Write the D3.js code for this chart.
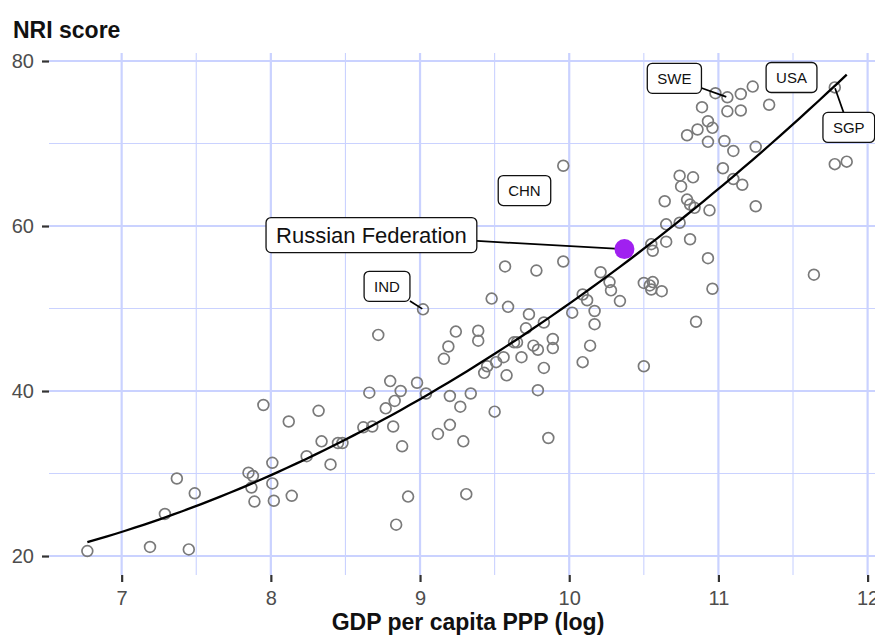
<!DOCTYPE html>
<html>
<head>
<meta charset="utf-8">
<script src="https://cdn.jsdelivr.net/npm/d3@7"></script>
<style>
  body { margin: 0; background: #fff; }
  svg { display: block; font-family: "Liberation Sans", Arial, sans-serif; }
</style>
</head>
<body>
<div id="chart"></div>
<script>
// GDP per capita PPP (log) and NRI score, unlabelled countries
const gdpLog = [6.77, 7.19, 7.45, 7.29, 7.37, 7.49, 7.95, 7.85, 7.88, 7.87, 7.89, 8.01, 8.01, 8.02,
  8.12, 8.14, 8.24, 8.32, 8.34, 8.40, 8.45, 8.48, 8.66, 8.62, 8.68, 8.80, 8.77, 8.83, 8.82, 8.84,
  8.87, 8.88, 8.72, 8.98, 9.04, 9.20, 9.34, 9.27, 9.50, 9.79, 9.12, 9.20, 9.29, 9.86, 8.92, 9.31,
  9.24, 9.19, 9.16, 9.39, 9.39, 9.48, 9.59, 9.73, 9.83, 9.71, 9.63, 9.65, 9.76, 9.79, 9.89, 9.89,
  9.56, 9.51, 9.68, 9.43, 9.45, 9.58, 9.83, 10.09, 10.14, 10.17, 10.17, 10.12, 10.09, 10.02, 9.57,
  9.78, 9.96, 10.21, 10.27, 10.28, 10.34, 9.96, 10.50, 10.54, 10.56, 10.55, 10.62, 10.56, 10.55,
  10.65, 10.81, 10.93, 10.96, 10.85, 10.50, 11.64, 10.98, 11.15, 11.23, 11.34, 10.89, 11.06, 11.15,
  10.93, 10.96, 10.86, 10.79, 10.93, 11.04, 11.10, 11.25, 11.03, 11.10, 11.16, 10.74, 10.83, 10.75,
  10.64, 10.79, 10.81, 10.84, 10.94, 11.25, 10.65, 10.74, 11.78, 11.86];
const nriScore = [20.6, 21.1, 20.8, 25.1, 29.4, 27.6, 38.3, 30.1, 29.7, 28.3, 26.6, 31.3, 28.8, 26.7,
  36.3, 27.3, 32.1, 37.6, 33.9, 31.1, 33.7, 33.7, 39.8, 35.6, 35.7, 41.2, 37.9, 38.8, 35.7, 23.8,
  40.0, 33.3, 46.8, 41.0, 39.7, 39.4, 39.7, 38.1, 37.5, 40.1, 34.8, 35.9, 33.9, 34.3, 27.2, 27.5,
  47.2, 45.4, 43.9, 47.3, 46.1, 51.2, 50.2, 49.3, 48.3, 47.6, 45.9, 45.9, 45.5, 45.0, 46.3, 45.2,
  44.1, 43.5, 44.1, 42.2, 43.0, 41.9, 42.8, 43.5, 45.5, 48.1, 49.7, 51.0, 51.7, 49.5, 55.1,
  54.6, 55.7, 54.4, 53.2, 52.2, 50.9, 67.3, 53.1, 52.8, 53.2, 52.3, 52.1, 57.0, 57.8,
  58.1, 58.4, 56.1, 52.4, 48.4, 43.0, 54.1, 76.1, 76.0, 76.9, 74.7, 74.4, 73.9, 74.0,
  72.7, 71.9, 71.7, 71.0, 70.2, 70.3, 69.1, 69.6, 67.0, 65.7, 65.0, 66.1, 65.9, 64.8,
  63.0, 63.2, 62.6, 62.2, 61.9, 62.4, 60.2, 60.4, 67.5, 67.8];

// labelled countries
const labelCodes = ["IND", "CHN", "SWE", "USA", "SGP"];
const labelGdp = [9.02, 9.70, 11.06, 11.49, 11.78];
const labelNri = [49.9, 64.3, 75.6, 78.0, 76.8];

// highlighted country
const focusName = "Russian Federation";
const focusGdp = 10.37;
const focusNri = 57.2;

const xTicks = [7, 8, 9, 10, 11, 12];
const yTicks = [20, 40, 60, 80];
const xMinor = [7.5, 8.5, 9.5, 10.5, 11.5];
const yMinor = [30, 50, 70];

// layout
const width = 875, height = 637;
const panel = { left: 49, right: 887, top: 53, bottom: 575 };
const labelOffsets = { IND: [-36, -23], CHN: [0, 0], SWE: [-53, -19], USA: [0, 0], SGP: [14, 40] };
const focusOffset = [-253, -14];
const gridColor = "#cad2ff";

const svg = d3.select("#chart").append("svg")
  .attr("width", width)
  .attr("height", height);

const x = d3.scaleLinear().domain([6.513, 12.13]).range([panel.left, panel.right]);
const y = d3.scaleLinear().domain([17.7, 80.97]).range([panel.bottom, panel.top]);

// grid
const grid = svg.append("g");
grid.selectAll(".vminor").data(xMinor).enter().append("line")
  .attr("x1", d => x(d)).attr("x2", d => x(d))
  .attr("y1", panel.top).attr("y2", panel.bottom)
  .attr("stroke", gridColor).attr("stroke-width", 1.1);
grid.selectAll(".hminor").data(yMinor).enter().append("line")
  .attr("x1", panel.left).attr("x2", panel.right)
  .attr("y1", d => y(d)).attr("y2", d => y(d))
  .attr("stroke", gridColor).attr("stroke-width", 1.1);
grid.selectAll(".vmajor").data(xTicks).enter().append("line")
  .attr("x1", d => x(d)).attr("x2", d => x(d))
  .attr("y1", panel.top).attr("y2", panel.bottom)
  .attr("stroke", gridColor).attr("stroke-width", 2.2);
grid.selectAll(".hmajor").data(yTicks).enter().append("line")
  .attr("x1", panel.left).attr("x2", panel.right)
  .attr("y1", d => y(d)).attr("y2", d => y(d))
  .attr("stroke", gridColor).attr("stroke-width", 2.2);

// axes
const xAxis = svg.append("g")
  .attr("transform", `translate(0, ${panel.bottom})`)
  .call(d3.axisBottom(x).tickValues(xTicks).tickSize(7).tickPadding(9).tickFormat(d3.format("d")));
const yAxis = svg.append("g")
  .attr("transform", `translate(${panel.left}, 0)`)
  .call(d3.axisLeft(y).tickValues(yTicks).tickSize(7).tickPadding(8).tickFormat(d3.format("d")));
[xAxis, yAxis].forEach(a => {
  a.select(".domain").remove();
  a.selectAll(".tick line").attr("stroke", "#333").attr("stroke-width", 2.2);
  a.selectAll(".tick text").attr("fill", "#4d4d4d").style("font-size", "20px")
    .style("font-family", "'Liberation Sans', Arial, sans-serif");
});

svg.append("text")
  .attr("x", 13).attr("y", 38)
  .attr("font-size", 23).attr("font-weight", "bold").attr("fill", "#111")
  .text("NRI score");
svg.append("text")
  .attr("x", (panel.left + panel.right) / 2).attr("y", 630)
  .attr("text-anchor", "middle")
  .attr("font-size", 23).attr("font-weight", "bold").attr("fill", "#111")
  .text("GDP per capita PPP (log)");

// all points for the trend
const allX = gdpLog.concat(labelGdp, [focusGdp]);
const allY = nriScore.concat(labelNri, [focusNri]);

// quadratic least squares fit (like geom_smooth lm y ~ poly(x, 2))
function quadFit(xs, ys) {
  const xm = d3.mean(xs);
  const S = [[0, 0, 0], [0, 0, 0], [0, 0, 0]], b = [0, 0, 0];
  xs.forEach((xv, i) => {
    const u = xv - xm, row = [1, u, u * u];
    for (let r = 0; r < 3; r++) {
      b[r] += row[r] * ys[i];
      for (let c = 0; c < 3; c++) S[r][c] += row[r] * row[c];
    }
  });
  // gaussian elimination
  for (let i = 0; i < 3; i++) {
    for (let k = i + 1; k < 3; k++) {
      const f = S[k][i] / S[i][i];
      for (let c = i; c < 3; c++) S[k][c] -= f * S[i][c];
      b[k] -= f * b[i];
    }
  }
  const coef = [0, 0, 0];
  for (let i = 2; i >= 0; i--) {
    let s = b[i];
    for (let c = i + 1; c < 3; c++) s -= S[i][c] * coef[c];
    coef[i] = s / S[i][i];
  }
  return v => coef[0] + coef[1] * (v - xm) + coef[2] * (v - xm) * (v - xm);
}
const fit = quadFit(allX, allY);
const [xLo, xHi] = d3.extent(allX);
const trend = d3.range(0, 81).map(i => {
  const xv = xLo + (xHi - xLo) * i / 80;
  return [xv, fit(xv)];
});

// points
const pts = gdpLog.map((g, i) => ({ g: g, n: nriScore[i] }))
  .concat(labelGdp.map((g, i) => ({ g: g, n: labelNri[i] })));
svg.append("g").selectAll("circle")
  .data(pts).enter().append("circle")
  .attr("cx", d => x(d.g))
  .attr("cy", d => y(d.n))
  .attr("r", 5.4)
  .attr("fill", "none")
  .attr("stroke", "#7a7a7a")
  .attr("stroke-width", 1.7);

svg.append("path")
  .datum(trend)
  .attr("fill", "none")
  .attr("stroke", "#000")
  .attr("stroke-width", 2.3)
  .attr("d", d3.line().x(d => x(d[0])).y(d => y(d[1])));

// labels
function drawLabel(text, px, py, off, fontSize, padX, boxH, segment) {
  const cx = px + off[0], cy = py + off[1];
  const g = svg.append("g");
  const t = g.append("text")
    .attr("x", cx).attr("y", cy)
    .attr("text-anchor", "middle")
    .attr("dy", "0.36em")
    .attr("font-size", fontSize)
    .attr("fill", "#111")
    .text(text);
  const w = t.node().getComputedTextLength() + padX * 2;
  if (segment) {
    // start where the line from box centre to the point leaves the box
    const dx = px - cx, dy = py - cy;
    const s = Math.min(Math.abs((w / 2) / dx) || Infinity, Math.abs((boxH / 2) / dy) || Infinity);
    svg.insert("line", () => g.node())
      .attr("x1", cx + dx * s).attr("y1", cy + dy * s)
      .attr("x2", px - dx * 0.02).attr("y2", py - dy * 0.02)
      .attr("stroke", "#000").attr("stroke-width", 1.7);
  }
  g.insert("rect", "text")
    .attr("x", cx - w / 2).attr("y", cy - boxH / 2)
    .attr("width", w).attr("height", boxH)
    .attr("rx", 5).attr("ry", 5)
    .attr("fill", "#fff")
    .attr("stroke", "#111").attr("stroke-width", 1.3);
}

labelCodes.forEach((code, i) => {
  const off = labelOffsets[code];
  drawLabel(code, x(labelGdp[i]), y(labelNri[i]), off, 15, 10, 30, off[0] !== 0 || off[1] !== 0);
});

// highlighted point
drawLabel(focusName, x(focusGdp), y(focusNri), focusOffset, 22, 10, 35, true);
svg.append("circle")
  .attr("cx", x(focusGdp)).attr("cy", y(focusNri))
  .attr("r", 10)
  .attr("fill", "#a020f0");
</script>
</body>
</html>
